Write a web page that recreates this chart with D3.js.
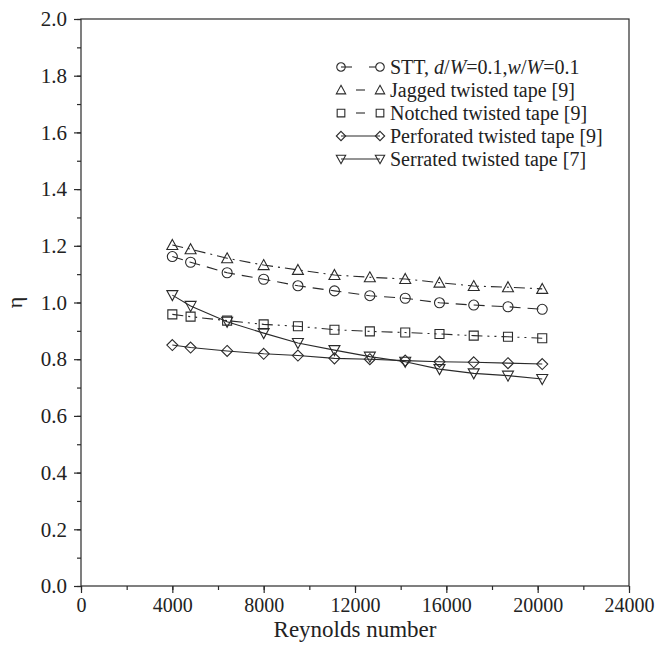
<!DOCTYPE html>
<html>
<head>
<meta charset="utf-8">
<script src="https://cdn.jsdelivr.net/npm/d3@7"></script>
<style>
  html, body { margin: 0; padding: 0; background: #fff; }
  svg { display: block; }
  text { font-family: "Liberation Serif", "Times New Roman", serif; fill: #222; }
</style>
</head>
<body>
<svg id="chart" width="670" height="650"></svg>
<script>
// ---- data ----
const reynolds = [4000, 4800, 6400, 8000, 9500, 11100, 12650, 14200, 15700, 17200, 18700, 20200];
const sttValues        = [1.162, 1.142, 1.105, 1.082, 1.059, 1.041, 1.024, 1.015, 0.999, 0.991, 0.985, 0.976];
const jaggedValues     = [1.203, 1.188, 1.156, 1.132, 1.115, 1.097, 1.089, 1.083, 1.070, 1.058, 1.054, 1.048];
const notchedValues    = [0.958, 0.950, 0.936, 0.923, 0.916, 0.904, 0.898, 0.894, 0.889, 0.883, 0.879, 0.874];
const perforatedValues = [0.850, 0.841, 0.829, 0.819, 0.813, 0.803, 0.800, 0.795, 0.791, 0.789, 0.786, 0.783];
const serratedValues   = [1.026, 0.988, 0.932, 0.892, 0.857, 0.832, 0.809, 0.791, 0.765, 0.750, 0.742, 0.730];
const xTicks = [0, 4000, 8000, 12000, 16000, 20000, 24000];
const yTicks = [0.0, 0.2, 0.4, 0.6, 0.8, 1.0, 1.2, 1.4, 1.6, 1.8, 2.0];
const xLabel = "Reynolds number";
const yLabel = "η";

const series = [
  { name: "STT", values: sttValues, symbol: "circle", dash: "11,7" },
  { name: "Jagged twisted tape [9]", values: jaggedValues, symbol: "triangle", dash: "11,5,2,5" },
  { name: "Notched twisted tape [9]", values: notchedValues, symbol: "square", dash: "11,5,2,5,2,5" },
  { name: "Perforated twisted tape [9]", values: perforatedValues, symbol: "diamond", dash: null },
  { name: "Serrated twisted tape [7]", values: serratedValues, symbol: "invTriangle", dash: null }
];

// ---- layout ----
const FONT = "'Liberation Serif', 'Times New Roman', serif";
const svg = d3.select("#chart");
const mLeft = 81, mRight = 629, mTop = 19, mBottom = 586;
const x = d3.scaleLinear().domain([0, 24000]).range([mLeft, mRight]);
const y = d3.scaleLinear().domain([0, 2]).range([mBottom, mTop]);
const ink = "#2a2a2a";

// frame
svg.append("rect").attr("x", mLeft).attr("y", mTop).attr("width", mRight - mLeft).attr("height", mBottom - mTop)
  .attr("fill", "none").attr("stroke", ink).attr("stroke-width", 1.2);

// x axis
const xMinor = d3.range(0, 24001, 2000);
svg.append("g").attr("transform", `translate(0,${mBottom})`)
  .call(d3.axisBottom(x).tickValues(xMinor).tickSize(4).tickFormat(""))
  .call(g => g.select(".domain").remove())
  .call(g => g.selectAll("line").attr("stroke", ink).attr("stroke-width", 1.2));
svg.append("g").attr("transform", `translate(0,${mBottom})`)
  .call(d3.axisBottom(x).tickValues(xTicks).tickSize(7).tickPadding(5).tickFormat(d3.format("d")))
  .call(g => g.select(".domain").remove())
  .call(g => g.selectAll("line").attr("stroke", ink).attr("stroke-width", 1.2))
  .call(g => g.selectAll("text").attr("font-size", 20).attr("fill", "#222").attr("font-family", FONT));

// y axis
const yMinor = d3.range(0, 2.001, 0.1);
svg.append("g").attr("transform", `translate(${mLeft},0)`)
  .call(d3.axisLeft(y).tickValues(yMinor).tickSize(4).tickFormat(""))
  .call(g => g.select(".domain").remove())
  .call(g => g.selectAll("line").attr("stroke", ink).attr("stroke-width", 1.2));
svg.append("g").attr("transform", `translate(${mLeft},0)`)
  .call(d3.axisLeft(y).tickValues(yTicks).tickSize(7).tickPadding(7).tickFormat(d3.format(".1f")))
  .call(g => g.select(".domain").remove())
  .call(g => g.selectAll("line").attr("stroke", ink).attr("stroke-width", 1.2))
  .call(g => g.selectAll("text").attr("font-size", 21).attr("fill", "#222").attr("font-family", FONT));

// axis titles
svg.append("text").attr("x", (mLeft + mRight) / 2).attr("y", 637).attr("text-anchor", "middle")
  .attr("font-family", FONT).attr("font-size", 23).text(xLabel);
svg.append("text").attr("transform", `translate(22,${y(1.0)}) rotate(-90)`).attr("text-anchor", "middle")
  .attr("font-family", FONT).attr("font-size", 22).text(yLabel);

// symbol drawing
function markerPath(sym, k) {
  const p = d3.path();
  if (sym === "circle") { p.arc(0, 0, 5 * k, 0, 2 * Math.PI); }
  else if (sym === "square") { p.rect(-4.5 * k, -4.5 * k, 9 * k, 9 * k); }
  else if (sym === "diamond") { p.moveTo(0, -5.5 * k); p.lineTo(5.5 * k, 0); p.lineTo(0, 5.5 * k); p.lineTo(-5.5 * k, 0); p.closePath(); }
  else if (sym === "triangle") { p.moveTo(0, -5.5 * k); p.lineTo(5.5 * k, 4.5 * k); p.lineTo(-5.5 * k, 4.5 * k); p.closePath(); }
  else if (sym === "invTriangle") { p.moveTo(0, 5.5 * k); p.lineTo(5.5 * k, -4.5 * k); p.lineTo(-5.5 * k, -4.5 * k); p.closePath(); }
  return p.toString();
}
function drawMarker(g, s, cx, cy, k) {
  g.append("path").attr("d", markerPath(s.symbol, k || 1))
    .attr("transform", `translate(${cx},${cy})`)
    .attr("fill", "none").attr("stroke", ink).attr("stroke-width", 1.1);
}

// lines + markers
const line = d3.line().x(d => x(d[0])).y(d => y(d[1]));
series.forEach(s => {
  const pts = reynolds.map((r, i) => [r, s.values[i]]);
  svg.append("path").attr("d", line(pts)).attr("fill", "none").attr("stroke", ink)
    .attr("stroke-width", 1.1).attr("stroke-dasharray", s.dash);
  const g = svg.append("g");
  pts.forEach(p => drawMarker(g, s, x(p[0]), y(p[1]), 1));
});

// legend
const legendX1 = 341, legendX2 = 380, legendTextX = 390, legendY0 = 67, legendDy = 23;
series.forEach((s, i) => {
  const cy = legendY0 + i * legendDy;
  const g = svg.append("g");
  if (s.dash) {
    if (i === 0) {
      g.append("line").attr("x1", legendX1).attr("x2", legendX1 + 11).attr("y1", cy).attr("y2", cy)
        .attr("stroke", ink).attr("stroke-width", 1.1);
      g.append("line").attr("x1", legendX2 - 11).attr("x2", legendX2 - 4).attr("y1", cy).attr("y2", cy)
        .attr("stroke", ink).attr("stroke-width", 1.1);
    } else {
      g.append("line").attr("x1", legendX1 + 15).attr("x2", legendX2 - 15).attr("y1", cy).attr("y2", cy)
        .attr("stroke", ink).attr("stroke-width", 1.1);
    }
  } else {
    g.append("line").attr("x1", legendX1).attr("x2", legendX2).attr("y1", cy).attr("y2", cy)
      .attr("stroke", ink).attr("stroke-width", 1.1);
  }
  drawMarker(g, s, legendX1, cy, 0.85);
  drawMarker(g, s, legendX2, cy, 0.85);
  const t = svg.append("text").attr("x", legendTextX).attr("y", cy + 7)
    .attr("font-family", FONT).attr("font-size", 20);
  if (i === 0) {
    t.append("tspan").text("STT, ");
    t.append("tspan").attr("font-style", "italic").text("d");
    t.append("tspan").text("/");
    t.append("tspan").attr("font-style", "italic").text("W");
    t.append("tspan").text("=0.1,");
    t.append("tspan").attr("font-style", "italic").text("w");
    t.append("tspan").text("/");
    t.append("tspan").attr("font-style", "italic").text("W");
    t.append("tspan").text("=0.1");
  } else {
    t.text(s.name);
  }
});
</script>
</body>
</html>
